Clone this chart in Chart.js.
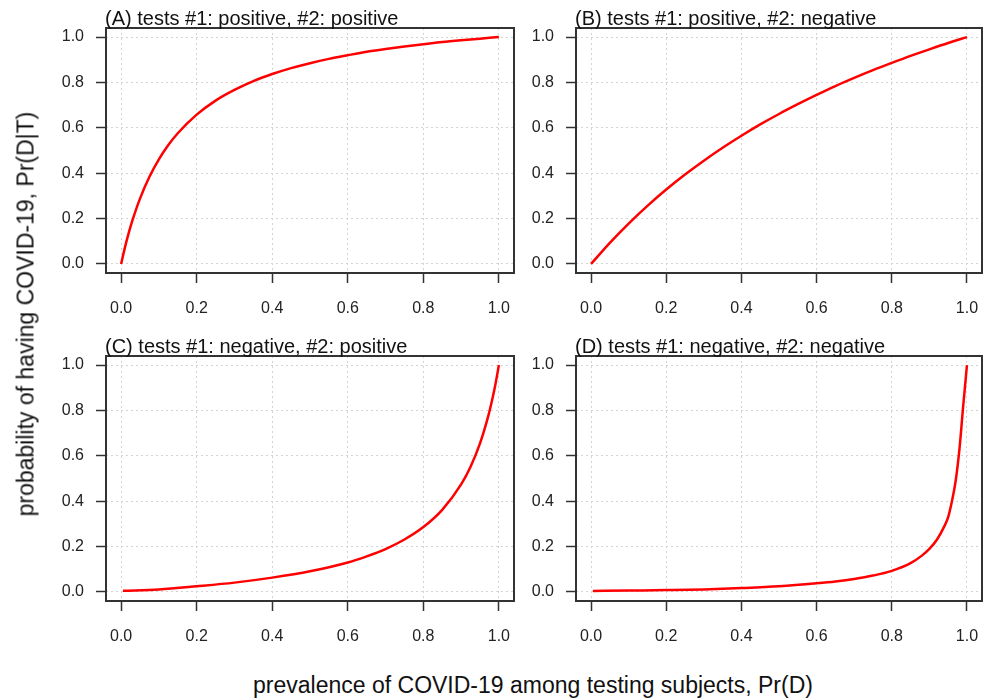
<!DOCTYPE html>
<html>
<head>
<meta charset="utf-8">
<script src="https://cdn.jsdelivr.net/npm/chart.js@4"></script>
<style>
  body { margin: 0; background: #fff; width: 984px; height: 698px; position: relative; overflow: hidden; font-family: "Liberation Sans", Arial, sans-serif; }
  canvas { position: absolute; }
  .ytitle { position: absolute; left: 26px; top: 314px; transform: translate(-50%, -50%) rotate(-90deg); font-size: 23px; color: #111; white-space: nowrap; }
  .xtitle { position: absolute; left: 533px; top: 672px; transform: translateX(-50%); font-size: 23px; color: #111; white-space: nowrap; }
</style>
</head>
<body>
<canvas id="pA" width="520" height="330" style="left:0;top:0"></canvas>
<canvas id="pB" width="494" height="330" style="left:490px;top:0"></canvas>
<canvas id="pC" width="520" height="330" style="left:0;top:328px"></canvas>
<canvas id="pD" width="494" height="330" style="left:490px;top:328px"></canvas>
<div class="ytitle">probability of having COVID-19, Pr(D|T)</div>
<div class="xtitle">prevalence of COVID-19 among testing subjects, Pr(D)</div>
<script>
const tickValues = [0, 0.2, 0.4, 0.6, 0.8, 1.0];

const titles = [
    "(A) tests #1: positive, #2: positive",
    "(B) tests #1: positive, #2: negative",
    "(C) tests #1: negative, #2: positive",
    "(D) tests #1: negative, #2: negative"
];

// (A) positive, positive
const xA = [0, 0.01, 0.02, 0.03, 0.05, 0.075, 0.1, 0.125, 0.15, 0.2, 0.25, 0.3, 0.35, 0.4, 0.45, 0.5, 0.55, 0.6, 0.65, 0.7, 0.75, 0.8, 0.85, 0.9, 0.95, 1.0];
const yA = [0, 0.072, 0.136, 0.192, 0.288, 0.384, 0.461, 0.524, 0.576, 0.658, 0.72, 0.767, 0.806, 0.837, 0.863, 0.885, 0.904, 0.92, 0.935, 0.947, 0.958, 0.968, 0.978, 0.986, 0.993, 1.0];

// (B) positive, negative
const xB = [0, 0.05, 0.1, 0.15, 0.2, 0.25, 0.3, 0.35, 0.4, 0.45, 0.5, 0.55, 0.6, 0.65, 0.7, 0.75, 0.8, 0.85, 0.9, 0.95, 1.0];
const yB = [0, 0.093, 0.178, 0.256, 0.328, 0.394, 0.455, 0.512, 0.565, 0.615, 0.661, 0.704, 0.745, 0.784, 0.82, 0.854, 0.886, 0.917, 0.946, 0.974, 1.0];

// (C) negative, positive
const xC = [0.005, 0.1, 0.2, 0.3, 0.4, 0.5, 0.6, 0.65, 0.7, 0.75, 0.8, 0.85, 0.9, 0.925, 0.95, 0.97, 0.98, 0.99, 1.0];
const yC = [0.005, 0.011, 0.025, 0.041, 0.063, 0.091, 0.13, 0.157, 0.189, 0.231, 0.286, 0.362, 0.474, 0.552, 0.655, 0.764, 0.831, 0.908, 1.0];

// (D) negative, negative
const xD = [0.005, 0.1, 0.2, 0.3, 0.4, 0.5, 0.6, 0.65, 0.7, 0.75, 0.8, 0.85, 0.88, 0.9, 0.92, 0.94, 0.95, 0.96, 0.97, 0.98, 0.99, 1.0];
const yD = [0.004, 0.006, 0.008, 0.011, 0.017, 0.025, 0.038, 0.046, 0.057, 0.072, 0.093, 0.127, 0.16, 0.19, 0.23, 0.29, 0.33, 0.4, 0.49, 0.63, 0.82, 1.0];

const boxPlugin = {
    id: 'box',
    afterDraw(chart, args, opts) {
        const a = chart.chartArea;
        const ctx = chart.ctx;
        ctx.save();
        ctx.strokeStyle = '#333';
        ctx.lineWidth = 2;
        ctx.strokeRect(a.left, a.top, a.right - a.left, a.bottom - a.top);
        ctx.fillStyle = '#111';
        ctx.font = '20px "Liberation Sans", Arial, sans-serif';
        ctx.textAlign = 'left';
        ctx.textBaseline = 'alphabetic';
        ctx.fillText(opts.text, a.left - 1, a.top - 3);
        ctx.restore();
    }
};

function makePanel(id, xs, ys, title, yWidth, padRight) {
    const pts = xs.map((x, i) => ({ x: x, y: ys[i] }));
    const axis = (isY) => ({
        type: 'linear',
        min: -0.04,
        max: 1.04,
        afterBuildTicks: (s) => { s.ticks = tickValues.map((v) => ({ value: v })); },
        afterFit: (s) => {
            if (isY) s.width = yWidth; else s.height = 57;
            s.paddingLeft = 0;
            s.paddingRight = 0;
            s.paddingTop = 0;
            s.paddingBottom = 0;
        },
        ticks: {
            autoSkip: false,
            maxRotation: 0,
            padding: isY ? 12 : 16,
            color: '#222',
            font: { family: '"Liberation Sans", Arial, sans-serif', size: 16 },
            callback: (v) => Number(v).toFixed(1)
        },
        grid: {
            color: '#d3d3d3',
            lineWidth: 1,
            tickColor: '#333',
            tickLength: 10,
            tickWidth: 1.5,
            tickBorderDash: []
        },
        border: { display: false, dash: [2, 3] }
    });
    new Chart(document.getElementById(id), {
        type: 'scatter',
        data: {
            datasets: [{
                data: pts,
                showLine: true,
                borderColor: '#ff0000',
                borderWidth: 2.5,
                pointRadius: 0,
                cubicInterpolationMode: 'monotone'
            }]
        },
        options: {
            responsive: false,
            animation: false,
            devicePixelRatio: 1,
            layout: { padding: { left: 0, top: 28, right: padRight, bottom: 0 } },
            scales: { x: axis(false), y: axis(true) },
            plugins: {
                legend: { display: false },
                tooltip: { enabled: false },
                box: { text: title }
            }
        },
        plugins: [boxPlugin]
    });
}

makePanel('pA', xA, yA, titles[0], 106, 6);
makePanel('pB', xB, yB, titles[1], 86, 2);
makePanel('pC', xC, yC, titles[2], 106, 6);
makePanel('pD', xD, yD, titles[3], 86, 2);
</script>
</body>
</html>
